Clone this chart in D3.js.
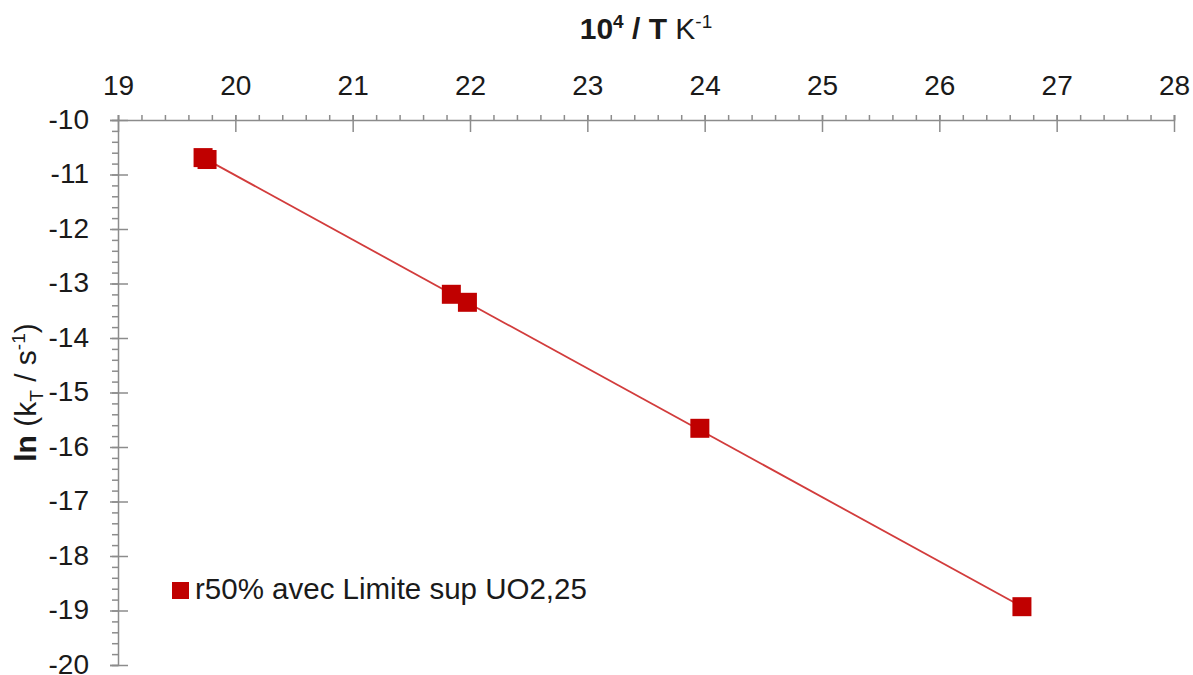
<!DOCTYPE html>
<html>
<head>
<meta charset="utf-8">
<script src="https://cdn.jsdelivr.net/npm/d3@7"></script>
<style>
  html, body { margin: 0; padding: 0; background: #fff; }
  svg { display: block; font-family: "Liberation Sans", Arial, sans-serif; }
</style>
</head>
<body>
<svg id="chart" width="1193" height="675"></svg>
<script>
// ---- data ----
const seriesName = "r50% avec Limite sup UO2,25";
const xValues = [19.725, 19.759, 21.841, 21.978, 23.959, 26.704];
const yValues = [-10.69, -10.725, -13.198, -13.345, -15.657, -18.93];
const trendX = [19.725, 26.704];
const trendY = [-10.69, -18.93];
const xTicks = [19, 20, 21, 22, 23, 24, 25, 26, 27, 28];
const yTicks = [-10, -11, -12, -13, -14, -15, -16, -17, -18, -19, -20];

(function () {
// ---- layout ----
const svg = d3.select("#chart");
const pL = 118, pR = 1174, pT = 120, pB = 665;
const x = d3.scaleLinear().domain([19, 28]).range([pL, pR]);
const y = d3.scaleLinear().domain([-20, -10]).range([pB, pT]);
const axisColor = "#8c8c8c";
const textColor = "#1a1a1a";
const markColor = "#c00000";
const lineColor = "#d23c3c";
const tickFont = 28;

// minor ticks
const xMinor = d3.range(19, 28.0001, 0.2);
const yMinor = d3.range(-20, -9.9999, 0.2);

const gx = svg.append("g").attr("transform", `translate(0,${pT})`);
gx.append("g").call(d3.axisTop(x).tickValues(xMinor).tickSize(5).tickFormat(""))
  .call(g => g.select(".domain").remove());
gx.append("g").call(d3.axisBottom(x).tickValues(xTicks).tickSize(12).tickFormat(""))
  .call(g => g.select(".domain").remove());
gx.append("g").call(d3.axisTop(x).tickValues(xTicks).tickSize(5).tickPadding(20).tickFormat(d3.format("d")))
  .call(g => g.select(".domain").attr("stroke", axisColor).attr("stroke-width", 1.5));
gx.selectAll("line").attr("stroke", axisColor).attr("stroke-width", 1.5);
gx.selectAll("text").attr("fill", textColor).style("font-size", tickFont + "px");

const gy = svg.append("g").attr("transform", `translate(${pL},0)`);
gy.append("g").call(d3.axisLeft(y).tickValues(yMinor).tickSize(6).tickFormat(""))
  .call(g => g.select(".domain").remove());
gy.append("g").call(d3.axisRight(y).tickValues(yTicks).tickSize(10).tickFormat(""))
  .call(g => g.select(".domain").remove());
gy.append("g").call(d3.axisLeft(y).tickValues(yTicks).tickSize(8).tickPadding(21).tickFormat(d => String(d)))
  .call(g => g.select(".domain").attr("stroke", axisColor).attr("stroke-width", 1.5));
gy.selectAll("line").attr("stroke", axisColor).attr("stroke-width", 1.5);
gy.selectAll("text").attr("fill", textColor).style("font-size", tickFont + "px").attr("dy", "0.3em");

// trend line
const line = d3.line().x((d, i) => x(trendX[i])).y((d, i) => y(trendY[i]));
svg.append("path").datum(trendX).attr("d", line)
  .attr("fill", "none").attr("stroke", lineColor).attr("stroke-width", 1.8);

// markers
const ms = 19;
svg.append("g").selectAll("rect").data(xValues).join("rect")
  .attr("x", (d, i) => x(d) - ms / 2)
  .attr("y", (d, i) => y(yValues[i]) - ms / 2)
  .attr("width", ms).attr("height", ms)
  .attr("fill", markColor);

// x axis title
const xt = svg.append("text").attr("x", (pL + pR) / 2).attr("y", 39)
  .attr("text-anchor", "middle").attr("fill", textColor).style("font-size", "30px");
xt.append("tspan").attr("font-weight", "bold").text("10");
xt.append("tspan").attr("font-weight", "bold").attr("dy", -11).style("font-size", "19px").text("4");
xt.append("tspan").attr("font-weight", "bold").attr("dy", 11).text(" / T ");
xt.append("tspan").text("K");
xt.append("tspan").attr("dy", -11).style("font-size", "19px").text("-1");

// y axis title
const yt = svg.append("text")
  .attr("transform", `translate(36,${(pT + pB) / 2}) rotate(-90)`)
  .attr("text-anchor", "middle").attr("fill", textColor).style("font-size", "30px");
yt.append("tspan").attr("font-weight", "bold").text("ln");
yt.append("tspan").text(" (k");
yt.append("tspan").attr("dy", 7).style("font-size", "19px").text("T");
yt.append("tspan").attr("dy", -7).text(" / s");
yt.append("tspan").attr("dy", -11).style("font-size", "19px").text("-1");
yt.append("tspan").attr("dy", 11).text(")");

// legend
const lg = svg.append("g").attr("transform", "translate(172,582)");
lg.append("rect").attr("width", 17).attr("height", 17).attr("fill", markColor);
lg.append("text").attr("x", 23).attr("y", 17).attr("fill", textColor)
  .style("font-size", "29.5px").text(seriesName);
})();
</script>
</body>
</html>
